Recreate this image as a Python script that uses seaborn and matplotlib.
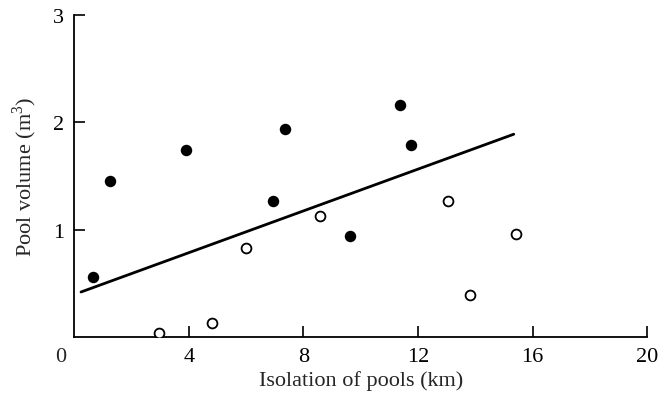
import numpy as np
import pandas as pd
import matplotlib
matplotlib.use("Agg")
import matplotlib.pyplot as plt
import seaborn as sns

# pools with filled markers
filled_x = [0.65, 1.26, 3.89, 6.94, 7.36, 9.64, 11.36, 11.74]
filled_y = [0.56, 1.45, 1.74, 1.27, 1.94, 0.94, 2.16, 1.79]
# pools with open markers
open_x = [2.97, 4.80, 6.00, 8.57, 13.04, 13.81, 15.42]
open_y = [0.04, 0.13, 0.83, 1.13, 1.27, 0.39, 0.96]
# fitted line ends
fit_x = [0.24, 15.34]
fit_y = [0.42, 1.89]

x_ticks = [4, 8, 12, 16, 20]
y_ticks = [1, 2, 3]

sns.set_style("ticks")
plt.rcParams["font.family"] = ["Liberation Serif", "DejaVu Serif"]
plt.rcParams["mathtext.fontset"] = "custom"
plt.rcParams["mathtext.rm"] = "Liberation Serif"

fig = plt.figure(figsize=(6.68, 4.02), dpi=100)
ax = fig.add_axes([0.111, 0.159, 0.858, 0.801])

df_f = pd.DataFrame({"x": filled_x, "y": filled_y})
df_o = pd.DataFrame({"x": open_x, "y": open_y})
df_l = pd.DataFrame({"x": fit_x, "y": fit_y})

sns.lineplot(data=df_l, x="x", y="y", color="black", linewidth=2.0, ax=ax)
sns.scatterplot(data=df_f, x="x", y="y", color="black", s=68, edgecolor="black",
                linewidth=0, ax=ax, zorder=3)
sns.scatterplot(data=df_o, x="x", y="y", facecolor="white", s=50, edgecolor="black",
                linewidth=1.3, ax=ax, zorder=3)

ax.set_xlim(0, 20)
ax.set_ylim(0, 3)
ax.set_xticks(x_ticks)
ax.set_yticks(y_ticks)
ax.tick_params(direction="in", length=8, width=1.2, labelsize=16, pad=7, colors="black")
for side in ["top", "right"]:
    ax.spines[side].set_visible(False)
for side in ["left", "bottom"]:
    ax.spines[side].set_linewidth(1.3)
    ax.spines[side].set_color("black")
ax.text(-0.014, -0.03, "0", transform=ax.transAxes, ha="right", va="top", fontsize=16)

ax.set_xlabel("Isolation of pools (km)", fontsize=16, labelpad=3)
ax.set_ylabel("Pool volume (m$^3$)", fontsize=16, labelpad=10)

fig.savefig("out.png", dpi=100)
